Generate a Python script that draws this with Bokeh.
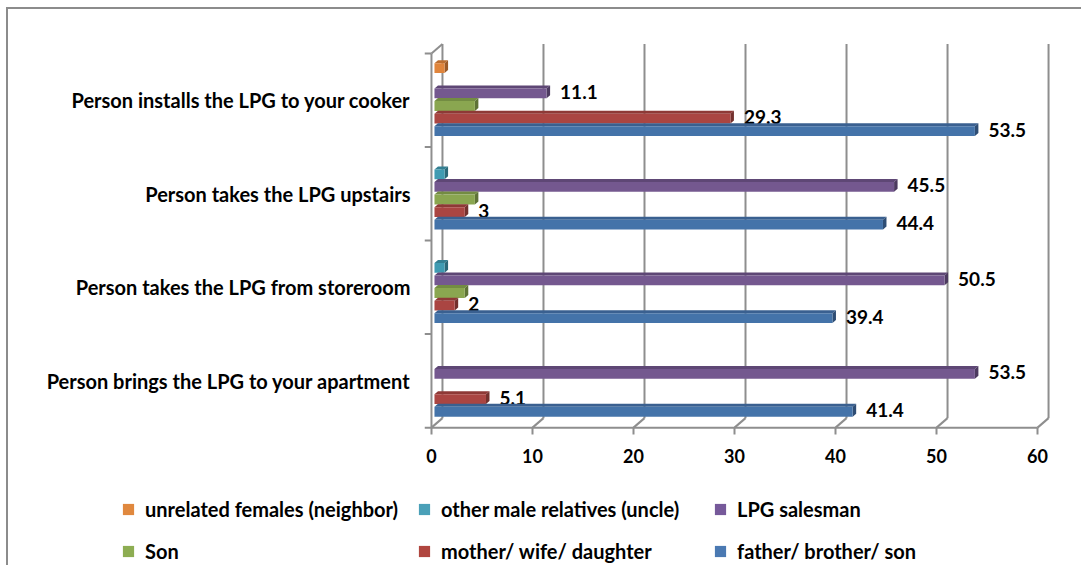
from bokeh.plotting import figure
from bokeh.models import FixedTicker, Legend, LegendItem, Range1d
from bokeh.layouts import column, row
from bokeh.embed import file_html
from bokeh.resources import INLINE
from bokeh.core.properties import value

# ---------------- data ----------------
categories = [
    "Person brings the LPG to your apartment",
    "Person takes the LPG from storeroom",
    "Person takes the LPG upstairs",
    "Person installs the LPG to your cooker",
]
series_names = [
    "father/ brother/ son",
    "mother/ wife/ daughter",
    "Son",
    "LPG salesman",
    "other male relatives (uncle)",
    "unrelated females (neighbor)",
]
father = [41.4, 39.4, 44.4, 53.5]
mother = [5.1, 2.0, 3.0, 29.3]
son = [0.0, 3.0, 4.0, 4.0]
salesman = [53.5, 50.5, 45.5, 11.1]
uncle = [0.0, 1.0, 1.0, 0.0]
neighbor = [0.0, 0.0, 0.0, 1.0]
series_values = [father, mother, son, salesman, uncle, neighbor]
show_labels = [True, True, False, True, False, False]
x_ticks = [0, 10, 20, 30, 40, 50, 60]
legend_order = [5, 4, 3, 2, 1, 0]

# ---------------- style ----------------
front_colors = ["#4473A9", "#AA4542", "#8AA650", "#74588F", "#3F9BB2", "#E0853C"]
top_colors = ["#3A6090", "#8E3936", "#738C42", "#5E4775", "#337F92", "#BC6E30"]
end_colors = ["#2E4D74", "#73302D", "#5E7236", "#4C3A5F", "#2A6878", "#9B5A28"]
legend_colors = ["#4A79B2", "#B0463F", "#8DAD52", "#76599A", "#4AA0B8", "#E0883E"]
grid_color = "#8E8E8E"
FONT = "Lato"

OX, OY = 8, 9   # content offset inside the outer border
W, H_MAIN, H_LEG = 1073, 480 - OY, 85
FRAME_L, FRAME_R = 424 - OX, 1052 - OX
FRAME_T, FRAME_B = 40 - OY, 429 - OY
x_lo, x_hi = -0.69, 61.48
y_lo, y_hi = -0.02, 4.14
px_x = (FRAME_R - FRAME_L) / (x_hi - x_lo)
px_y = (FRAME_B - FRAME_T) / (y_hi - y_lo)

xo = 3 / px_x          # bar start offset (depth)
dxb = 3.5 / px_x        # bar depth in x
dyb = 3.0 / px_y        # bar depth in y
dxw = 11 / px_x         # back wall offset
dyw = 9.5 / px_y
slot = 12.6 / px_y
fh = 9.8 / px_y
base = 11.0 / px_y

p = figure(width=W, height=H_MAIN, output_backend="svg", toolbar_location=None,
           x_range=Range1d(x_lo, x_hi), y_range=Range1d(y_lo, y_hi),
           min_border_left=FRAME_L, min_border_right=W - FRAME_R,
           min_border_top=FRAME_T, min_border_bottom=H_MAIN - FRAME_B)
p.outline_line_color = None
p.grid.visible = False
p.background_fill_color = "white"
p.border_fill_color = "white"

# ---------------- walls & gridlines ----------------
n_cat = len(categories)
gx0, gy0, gx1, gy1 = [], [], [], []
for t in x_ticks:
    gx0.append(t + dxw); gy0.append(dyw); gx1.append(t + dxw); gy1.append(n_cat + dyw)
    gx0.append(t); gy0.append(0); gx1.append(t + dxw); gy1.append(dyw)
gx0.append(0); gy0.append(0); gx1.append(0); gy1.append(n_cat)
gx0.append(0); gy0.append(n_cat); gx1.append(dxw); gy1.append(n_cat + dyw)
gx0.append(0); gy0.append(0); gx1.append(x_ticks[-1]); gy1.append(0)
for c in range(n_cat + 1):
    gx0.append(x_lo); gy0.append(c); gx1.append(0); gy1.append(c)
p.segment(x0=gx0, y0=gy0, x1=gx1, y1=gy1, line_color=grid_color, line_width=2)

# ---------------- bars ----------------
for j in reversed(range(len(series_values))):
    vals = series_values[j]
    L, R, B, T = [], [], [], []
    txs, tys, exs, eys = [], [], [], []
    lx, ly, lt = [], [], []
    for c, v in enumerate(vals):
        if v <= 0:
            continue
        b = c + base + j * slot
        t = b + fh
        l = xo
        r = xo + v
        L.append(l); R.append(r); B.append(b); T.append(t)
        txs.append([l, r, r + dxb, l + dxb]); tys.append([t, t, t + dyb, t + dyb])
        exs.append([r, r, r + dxb, r + dxb]); eys.append([b, t, t + dyb, b + dyb])
        lx.append(r + dxb); ly.append((b + t) / 2 + dyb / 2); lt.append(f"{v:g}")
    p.patches(xs=txs, ys=tys, fill_color=top_colors[j], line_color=None)
    p.patches(xs=exs, ys=eys, fill_color=end_colors[j], line_color=None)
    p.quad(left=L, right=R, bottom=B, top=T, fill_color=front_colors[j], line_color=None)
    if show_labels[j]:
        p.text(x=lx, y=ly, text=lt, x_offset=10, text_align="left", text_baseline="middle",
               text_font=value(FONT), text_font_style="bold", text_font_size="19px",
               text_color="black")

# ---------------- axes ----------------
xa = p.xaxis[0]
xa.ticker = FixedTicker(ticks=x_ticks)
xa.axis_line_color = None
xa.major_tick_line_color = grid_color
xa.major_tick_line_width = 2
xa.major_tick_in = 2
xa.major_tick_out = 5
xa.minor_tick_line_color = None
xa.major_label_standoff = 14
xa.major_label_text_font = FONT
xa.major_label_text_font_style = "bold"
xa.major_label_text_font_size = "18px"
xa.major_label_text_color = "black"

ya = p.yaxis[0]
ya.ticker = FixedTicker(ticks=[c + 0.5 for c in range(n_cat)])
ya.major_label_overrides = {c + 0.5: name for c, name in enumerate(categories)}
ya.axis_line_color = None
ya.major_tick_line_color = None
ya.minor_tick_line_color = None
ya.major_tick_out = 0
ya.major_tick_in = 0
ya.major_label_standoff = 14
ya.major_label_text_font = FONT
ya.major_label_text_font_style = "bold"
ya.major_label_text_font_size = "20px"
ya.major_label_text_color = "black"

# ---------------- legend strip ----------------
lp = figure(width=W, height=H_LEG, output_backend="svg", toolbar_location=None,
            x_axis_type=None, y_axis_type=None, x_range=Range1d(0, 1), y_range=Range1d(0, 1),
            min_border_left=0, min_border_right=0, min_border_top=0, min_border_bottom=0)
lp.outline_line_color = None
lp.grid.visible = False
items = []
for j in legend_order:
    r = lp.quad(left=[-5], right=[-4], bottom=[-5], top=[-4],
                fill_color=legend_colors[j], line_color=None)
    items.append(LegendItem(label=series_names[j], renderers=[r]))
leg = Legend(items=items, orientation="horizontal", ncols=3, location=(121 - OX, 2),
             glyph_width=14, glyph_height=14, label_standoff=10, spacing=18,
             label_height=20, label_width=254, padding=0, margin=0,
             border_line_color=None, background_fill_alpha=0,
             label_text_font=FONT, label_text_font_style="bold",
             label_text_font_size="20px", label_text_color="black")
lp.add_layout(leg, "center")

layout = column(p, row(lp), margin=(7, 0, 0, 6),
                styles={"border-top": "2px solid #8C8C8C", "border-left": "2px solid #8C8C8C"})
open("out.html", "w").write(file_html(layout, INLINE))
